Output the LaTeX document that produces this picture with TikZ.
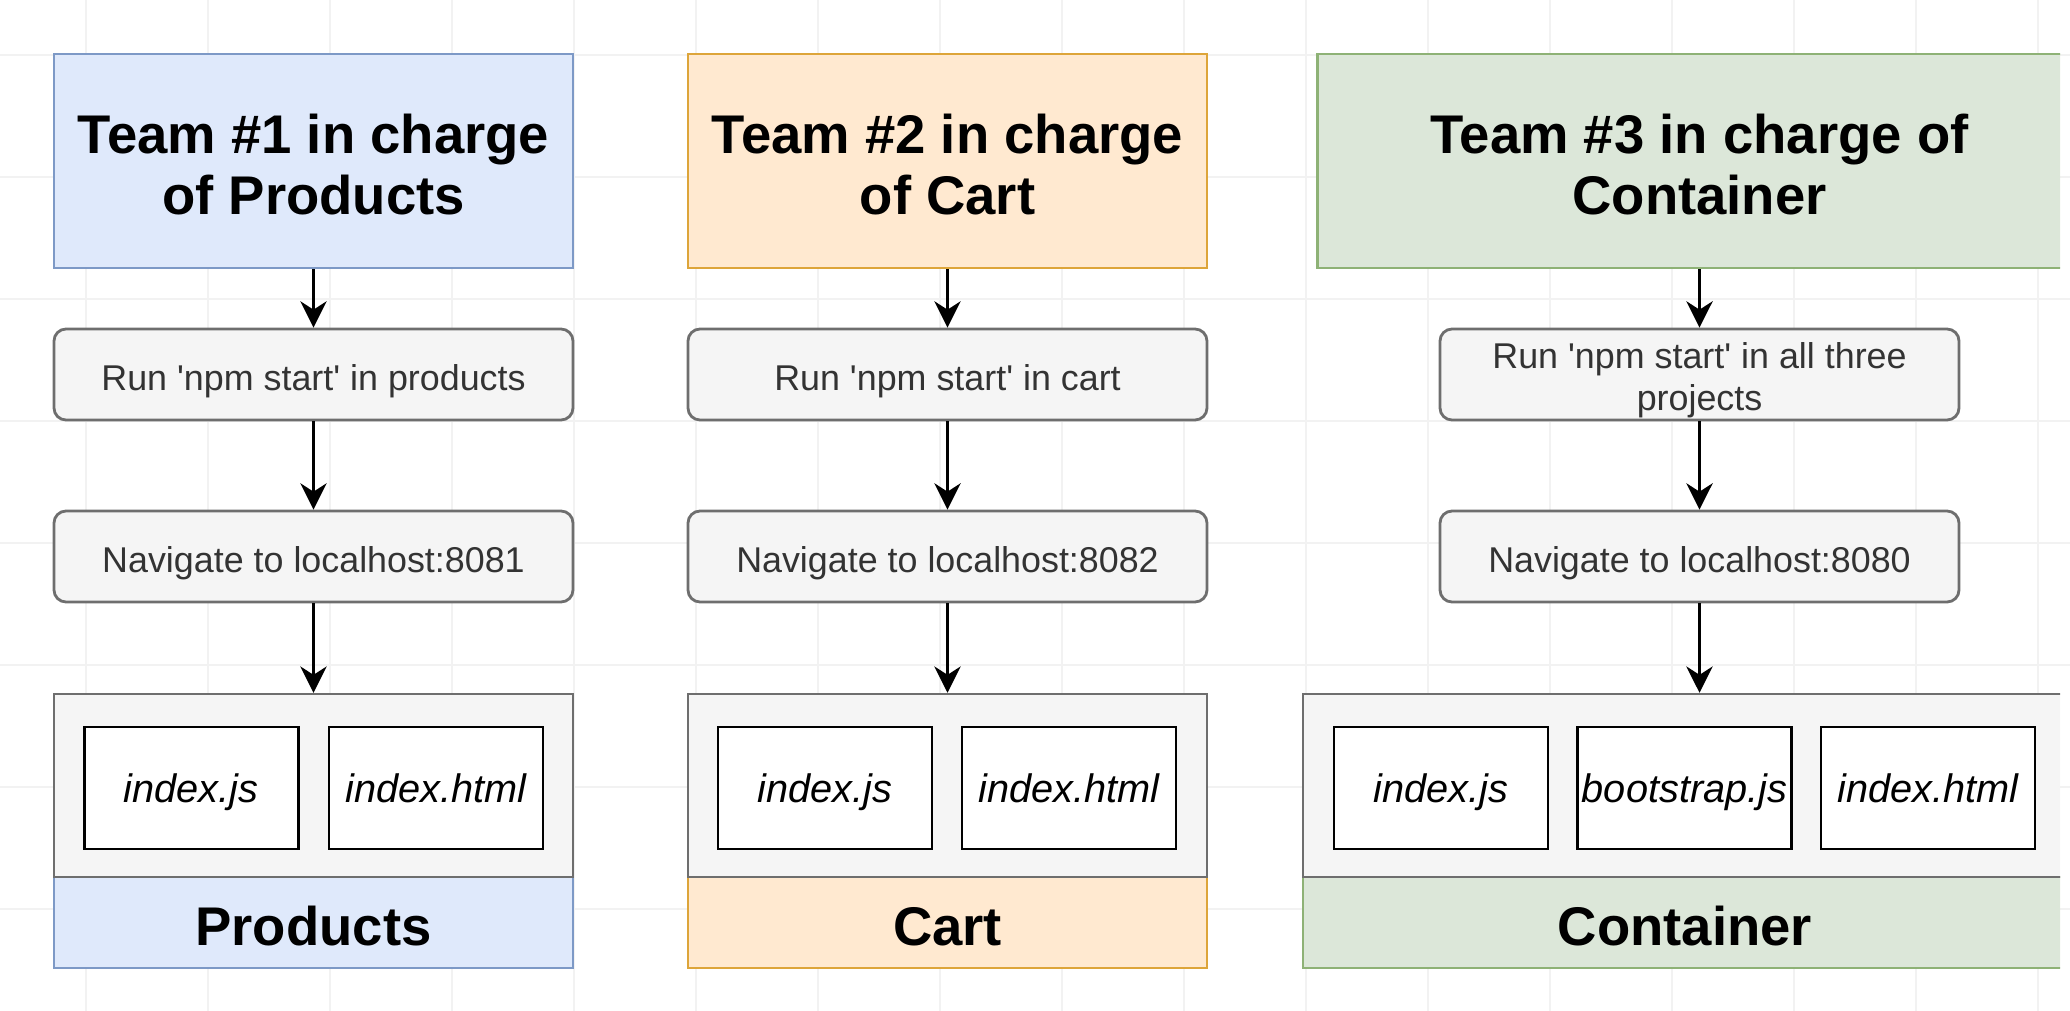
\documentclass[tikz,border=0pt]{standalone}
\usepackage{fontspec}
\setmainfont{Liberation Sans}
\usetikzlibrary{arrows.meta}
\definecolor{blueFill}{HTML}{DFE9FB}
\definecolor{blueLine}{HTML}{7D99C6}
\definecolor{orangeFill}{HTML}{FFE9D0}
\definecolor{orangeLine}{HTML}{DDA53A}
\definecolor{greenFill}{HTML}{DCE7D9}
\definecolor{greenLine}{HTML}{8EB276}
\definecolor{stepFill}{HTML}{F5F5F5}
\definecolor{stepLine}{HTML}{6E6E6E}
\definecolor{stepText}{HTML}{333333}
\definecolor{gridLine}{HTML}{F2F2F2}

\begin{document}
\begin{tikzpicture}[->,>={Stealth[length=7.5pt,width=7.5pt,inset=2.4pt]},line width=0.7pt,
  team node/.style={draw,line width=0.6pt,minimum width=5.19cm,minimum height=2.14cm,align=center,text height=30.5pt,text depth=0pt,font=\fontsize{15.5}{17.5}\selectfont\bfseries},
  step node/.style={draw=stepLine,fill=stepFill,line width=0.8pt,rounded corners=0.12cm,inner sep=1pt,minimum width=5.19cm,minimum height=0.91cm,align=center,text height=9pt,text depth=0pt,text=stepText,font=\fontsize{10.2}{12}\selectfont},
  app node/.style={draw=stepLine,fill=stepFill,line width=0.7pt,minimum width=5.19cm,minimum height=1.83cm},
  label node/.style={draw,line width=0.6pt,minimum width=5.19cm,minimum height=0.91cm,text height=13pt,text depth=0pt,font=\fontsize{15.5}{17.5}\selectfont\bfseries},
  file node/.style={draw,fill=white,line width=0.8pt,inner sep=0pt,minimum width=2.14cm,minimum height=1.22cm,text height=8.5pt,text depth=0pt,font=\fontsize{11.3}{13}\selectfont\itshape}]
  \useasboundingbox (0,0) rectangle (20.7,-10.1);
  \begin{scope}[shift={(0.86,-0.55)}]
    \draw[-,gridLine,line width=0.4pt] (-1.22,0.6) grid[step=1.22] (20.74,-9.8);
  \end{scope}

  \begin{scope}
  \clip (0,0) rectangle (20.6,-10.1);
  % team 1
  \node[team node,fill=blueFill,draw=blueLine] (t1) at (3.135,-1.61) {Team \#1 in charge\\of Products};
  \node[step node] (r1) at (3.135,-3.745) {Run \textquotesingle npm start\textquotesingle{} in products};
  \node[step node] (n1) at (3.135,-5.565) {Navigate to localhost:8081};
  \node[label node,fill=blueFill,draw=blueLine] (l1) at (3.135,-9.225) {Products};
  \node[app node] (a1) at (3.135,-7.855) {};
  \node[file node] (f11) at (1.9125,-7.88) {index.js};
  \node[file node] (f12) at (4.36,-7.88) {index.html};

  % team 2
  \node[team node,fill=orangeFill,draw=orangeLine] (t2) at (9.475,-1.61) {Team \#2 in charge\\of Cart};
  \node[step node] (r2) at (9.475,-3.745) {Run \textquotesingle npm start\textquotesingle{} in cart};
  \node[step node] (n2) at (9.475,-5.565) {Navigate to localhost:8082};
  \node[label node,fill=orangeFill,draw=orangeLine] (l2) at (9.475,-9.225) {Cart};
  \node[app node] (a2) at (9.475,-7.855) {};
  \node[file node] (f21) at (8.25,-7.88) {index.js};
  \node[file node] (f22) at (10.69,-7.88) {index.html};

  % team 3
  \node[team node,fill=greenFill,draw=greenLine,minimum width=7.64cm] (t3) at (16.995,-1.61) {Team \#3 in charge of\\Container};
  \node[step node,text height=20.5pt] (r3) at (16.995,-3.745) {Run \textquotesingle npm start\textquotesingle{} in all three\\projects};
  \node[step node] (n3) at (16.995,-5.565) {Navigate to localhost:8080};
  \node[label node,fill=greenFill,draw=greenLine,minimum width=7.64cm] (l3) at (16.85,-9.225) {Container};
  \node[app node,minimum width=7.64cm] (a3) at (16.85,-7.855) {};
  \node[file node] (f31) at (14.41,-7.88) {index.js};
  \node[file node] (f32) at (16.845,-7.88) {bootstrap.js};
  \node[file node] (f33) at (19.28,-7.88) {index.html};
  \end{scope}

\path
  (t1) edge (r1)
  (r1) edge (n1)
  (n1) edge (a1)
  (t2) edge (r2)
  (r2) edge (n2)
  (n2) edge (a2)
  (t3) edge (r3)
  (r3) edge (n3)
  (n3) edge (n3 |- a3.north)
;
\end{tikzpicture}
\end{document}
